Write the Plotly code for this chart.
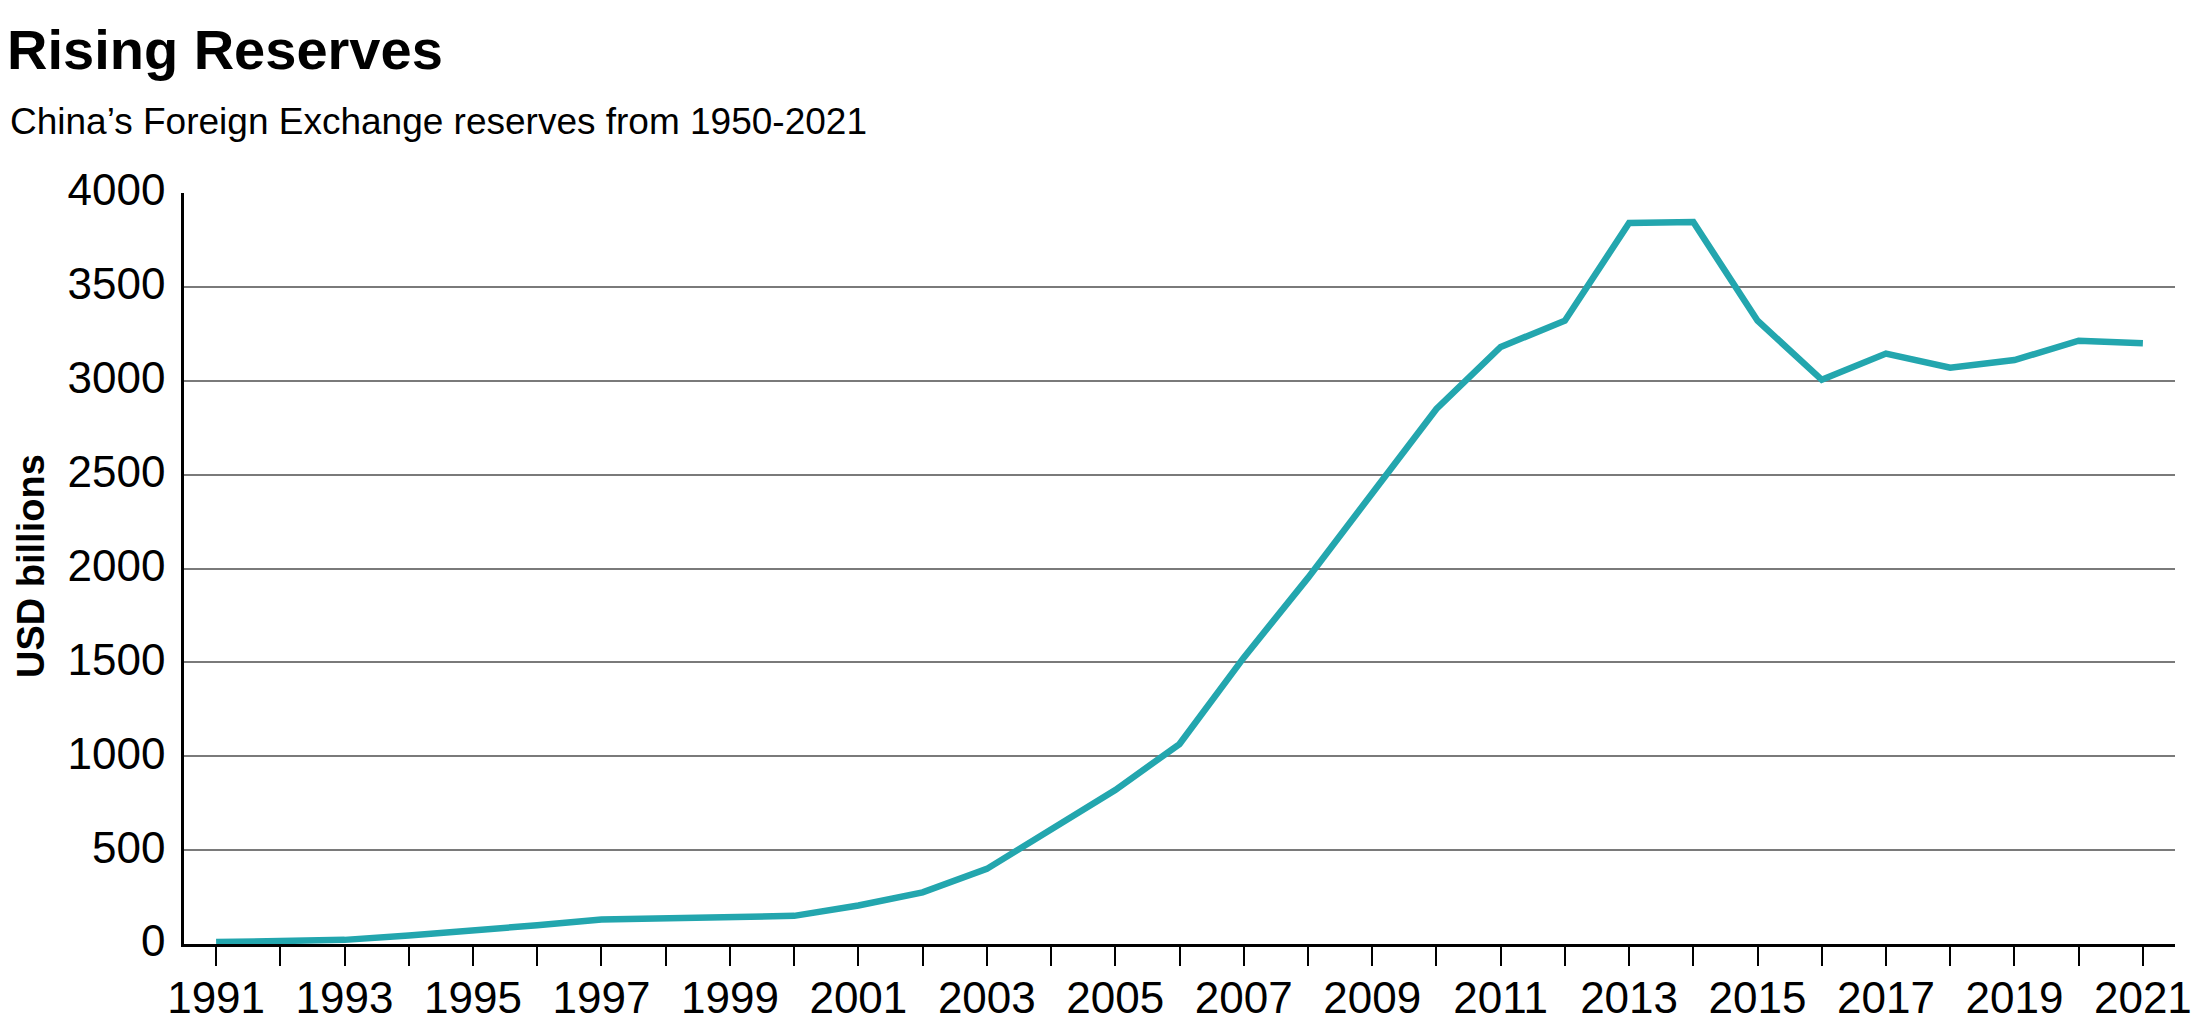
import plotly.graph_objects as go

# ---- data ----
years = list(range(1991, 2022))
reserves_usd_bn = [10, 12, 22, 45, 70, 100, 130, 135, 140, 150, 205, 275, 400, 610, 820,
                   1065, 1525, 1950, 2400, 2850, 3180, 3320, 3840, 3845, 3320, 3005, 3145,
                   3070, 3110, 3213, 3200]
x_tick_vals = years
x_tick_text = [str(y) if (y - 1991) % 2 == 0 else "" for y in years]
y_tick_vals = [0, 500, 1000, 1500, 2000, 2500, 3000, 3500, 4000]
y_tick_text = [str(v) for v in y_tick_vals]

title_text = "Rising Reserves"
subtitle_text = "China’s Foreign Exchange reserves from 1950-2021"
y_title_text = "USD billions"

# ---- styling ----
W, H = 2191, 1034
L, R, T, B = 184, 16, 193, 90
PW, PH = W - L - R, H - T - B
FONT = "Liberation Sans, Arial, sans-serif"
LINE_COLOR = "#23A6AE"


def px_x(px):
    return (px - L) / PW


def px_y(py):
    return (H - B - py) / PH


fig = go.Figure()
fig.add_trace(go.Scatter(
    x=years, y=reserves_usd_bn, mode="lines",
    line=dict(color=LINE_COLOR, width=6.5),
    hoverinfo="x+y", showlegend=False,
))

fig.update_layout(
    width=W, height=H, autosize=False,
    margin=dict(l=L, r=R, t=T, b=B, pad=0, autoexpand=False),
    paper_bgcolor="white", plot_bgcolor="white",
    font=dict(family=FONT, color="black"),
    xaxis=dict(
        range=[1990.5, 2021.5], automargin=False,
        tickmode="array", tickvals=x_tick_vals, ticktext=x_tick_text,
        tickangle=0, ticklabeloverflow="allow", ticklabelstandoff=-6,
        ticks="outside", ticklen=19, tickwidth=1.5, tickcolor="black",
        showline=True, linecolor="black", linewidth=3,
        showgrid=False, zeroline=False,
        tickfont=dict(family=FONT, size=44, color="black"),
        fixedrange=True,
    ),
    yaxis=dict(
        range=[0, 4000], automargin=False,
        tickmode="array", tickvals=y_tick_vals, ticktext=y_tick_text,
        ticks="", ticklabelstandoff=7, ticklabelshift=-3,
        showline=True, linecolor="black", linewidth=2.5,
        showgrid=True, gridcolor="#7a7a7a", gridwidth=1.5,
        zeroline=False,
        tickfont=dict(family=FONT, size=44, color="black"),
        fixedrange=True,
    ),
    annotations=[
        dict(text="<b>" + title_text + "</b>", xref="paper", yref="paper",
             x=px_x(5), y=px_y(50), xanchor="left", yanchor="middle",
             showarrow=False, font=dict(family=FONT, size=56, color="black")),
        dict(text=subtitle_text, xref="paper", yref="paper",
             x=px_x(8), y=px_y(122), xanchor="left", yanchor="middle",
             showarrow=False, font=dict(family=FONT, size=37, color="black")),
        dict(text="<b>" + y_title_text + "</b>", xref="paper", yref="paper",
             x=px_x(31), y=px_y(566), xanchor="center", yanchor="middle",
             textangle=-90,
             showarrow=False, font=dict(family=FONT, size=38, color="black")),
    ],
)

fig.write_html(
    "out.html",
    config={"displayModeBar": False},
    post_script="document.body.style.margin='0';document.body.style.overflow='hidden';",
)
